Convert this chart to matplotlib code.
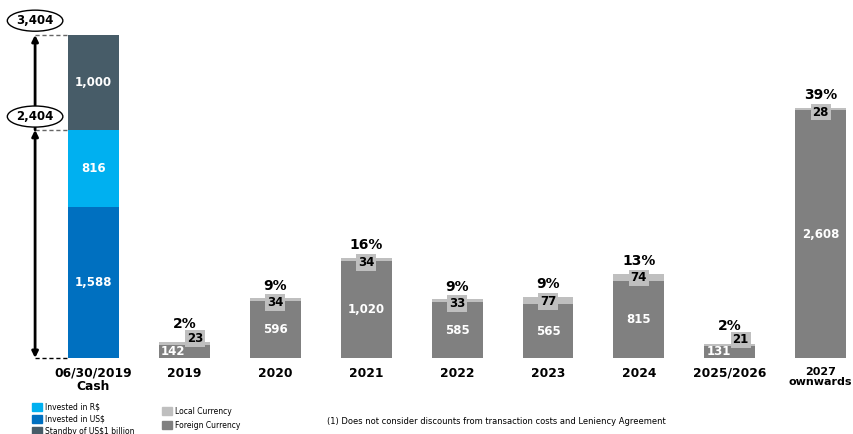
import matplotlib.pyplot as plt
from matplotlib.patches import Rectangle

# dados
periodos = ["06/30/2019\nCash", "2019", "2020", "2021", "2022", "2023", "2024", "2025/2026", "2027\nownwards"]
caixa_usd = 1588
caixa_brl = 816
caixa_standby = 1000
estrangeira = [142, 596, 1020, 585, 565, 815, 131, 2608]
local = [23, 34, 34, 33, 77, 74, 21, 28]
percentuais = ["2%", "9%", "16%", "9%", "9%", "13%", "2%", "39%"]

c_usd = "#0070C0"
c_brl = "#00B0F0"
c_standby = "#475C68"
c_estr = "#808080"
c_local = "#BFBFBF"

fig = plt.figure(figsize=(8.54, 4.34), dpi=100)
ax = fig.add_axes([0, 76 / 434, 1, 358 / 434])
ax.set_xlim(-1.029, 8.366)
ax.set_ylim(0, 3772)
ax.axis("off")

w = 0.56
# barra de caixa
ax.bar(0, caixa_usd, w, color=c_usd)
ax.bar(0, caixa_brl, w, bottom=caixa_usd, color=c_brl)
ax.bar(0, caixa_standby, w, bottom=caixa_usd + caixa_brl, color=c_standby)
ax.text(0, caixa_usd / 2, f"{caixa_usd:,}", ha="center", va="center", color="white", fontsize=8.5, fontweight="bold")
ax.text(0, caixa_usd + caixa_brl / 2, f"{caixa_brl:,}", ha="center", va="center", color="white", fontsize=8.5, fontweight="bold")
ax.text(0, caixa_usd + caixa_brl + caixa_standby / 2, f"{caixa_standby:,}", ha="center", va="center", color="white", fontsize=8.5, fontweight="bold")

sub = caixa_usd + caixa_brl
total = sub + caixa_standby
xa = -0.643
ax.annotate("", xy=(xa, sub), xytext=(xa, 0),
            arrowprops=dict(arrowstyle="<|-|>", color="black", lw=2, shrinkA=0, shrinkB=0, mutation_scale=9),
            annotation_clip=False)
ax.annotate("", xy=(xa, total), xytext=(xa, sub),
            arrowprops=dict(arrowstyle="-|>", color="black", lw=2, shrinkA=0, shrinkB=0, mutation_scale=9),
            annotation_clip=False)
for yv, cor in [(total, "#666666"), (sub, "#666666"), (0, "black")]:
    ax.plot([xa, -w / 2], [yv, yv], ls=(0, (3, 2)), color=cor, lw=1, clip_on=False)
ax.text(xa, total + 150, f"{total:,}", ha="center", va="center", fontsize=8.5, fontweight="bold",
        bbox=dict(boxstyle="ellipse,pad=0.08", fc="white", ec="black", lw=1))
ax.text(xa, sub + 140, f"{sub:,}", ha="center", va="center", fontsize=8.5, fontweight="bold",
        bbox=dict(boxstyle="ellipse,pad=0.08", fc="white", ec="black", lw=1))

# barras de vencimentos
xs = list(range(1, len(periodos)))
ax.bar(xs, estrangeira, w, color=c_estr)
ax.bar(xs, local, w, bottom=estrangeira, color=c_local)
caixa_txt = dict(boxstyle="square,pad=0.15", fc=c_local, ec="none")
for x, e, l, p in zip(xs, estrangeira, local, percentuais):
    topo = e + l
    if topo < 300:
        ax.text(x - w / 2 + 0.02, 5, f"{e:,}", ha="left", va="bottom", color="white", fontsize=8.5, fontweight="bold")
        ax.text(x + 0.12, topo - 30, f"{l:,}", ha="center", va="bottom", color="black", fontsize=8.5,
                fontweight="bold", bbox=caixa_txt)
        ax.text(x, topo + 115, p, ha="center", va="bottom", fontsize=10, fontweight="bold")
    else:
        ax.text(x, e / 2, f"{e:,}", ha="center", va="center", color="white", fontsize=8.5, fontweight="bold")
        ax.text(x, topo - 45, f"{l:,}", ha="center", va="center", color="black", fontsize=8.5,
                fontweight="bold", bbox=caixa_txt)
        ax.text(x, topo + 60, p, ha="center", va="bottom", fontsize=10, fontweight="bold")

for i, rot in enumerate(periodos):
    tam = 8 if i == len(periodos) - 1 else 8.8
    ax.text(i, -90, rot, ha="center", va="top", fontsize=tam, fontweight="bold", linespacing=1.05)

# legendas
def item(xp, yp, cor, txt, tam):
    fig.add_artist(Rectangle(((xp) / 854, 1 - (yp + 4) / 434), tam / 854, 8 / 434,
                             transform=fig.transFigure, color=cor))
    fig.text((xp + tam + 3) / 854, 1 - yp / 434, txt, ha="left", va="center", fontsize=5.5)

item(32, 407, c_brl, "Invested in R$", 10)
item(32, 419, c_usd, "Invested in US$", 10)
item(32, 431, c_standby, "Standby of US$1 billion", 10)
item(162, 411, c_local, "Local Currency", 10)
item(162, 425, c_estr, "Foreign Currency", 10)
fig.text(327 / 854, 1 - 421 / 434, "(1) Does not consider discounts from transaction costs and Leniency Agreement",
         ha="left", va="center", fontsize=6)

fig.savefig("out.png", dpi=100)
